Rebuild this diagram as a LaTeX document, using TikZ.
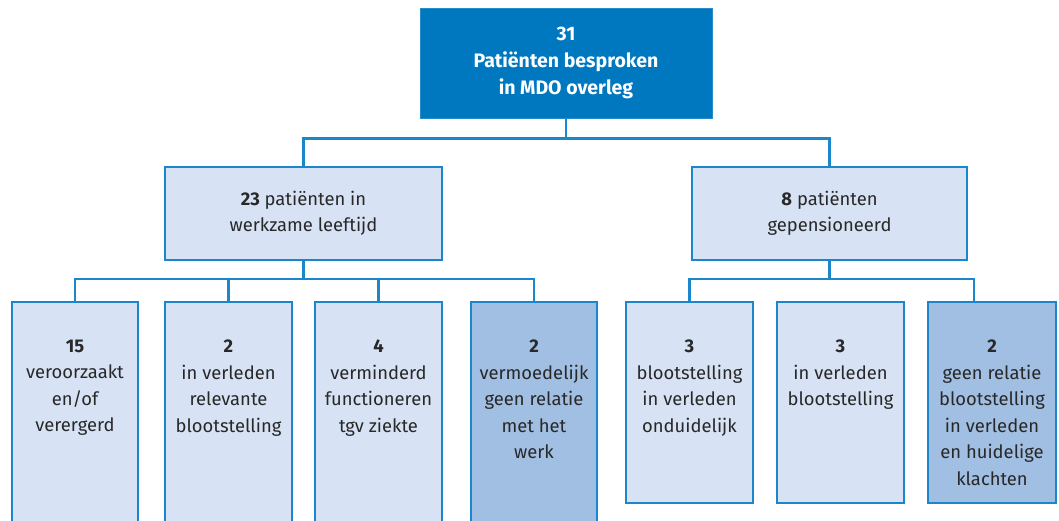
\documentclass[tikz,border=0pt]{standalone}
\usepackage{fontspec}
\setmainfont{Fira Sans}
\usetikzlibrary{calc}
\definecolor{topblue}{RGB}{0,120,192}
\definecolor{lightbox}{RGB}{215,227,244}
\definecolor{darkbox}{RGB}{161,191,226}
\definecolor{edgeblue}{RGB}{28,134,204}
\definecolor{txt}{RGB}{40,40,40}
\tikzset{
  box/.style={draw=edgeblue, line width=2.5pt, rectangle, inner sep=0pt},
  lbox/.style={box, fill=lightbox},
  dbox/.style={box, fill=darkbox},
  tbox/.style={draw=topblue!85!white, line width=1pt, fill=topblue, rectangle, inner sep=0pt},
  conn/.style={draw=edgeblue, line width=2.2pt},
  txtn/.style={text=txt, align=center, inner sep=0pt, font=\fontsize{18.4}{26.5}\selectfont},
  toptxt/.style={text=white, align=center, inner sep=0pt, font=\fontsize{19.5}{27}\selectfont\bfseries},
}
\begin{document}
\begin{tikzpicture}[x=1pt,y=-1pt]
\useasboundingbox (0,0) rectangle (1059,520);
\clip (0,0) rectangle (1059,520);
% top
\node[tbox, minimum width=292pt, minimum height=110pt] (top) at (566,63) {};
\node[toptxt] (toptext) at (top.center) {31\\Patiënten besproken\\in MDO overleg};
% level 2
\node[lbox, minimum width=277pt, minimum height=93pt] (L) at (303.5,213.5) {};
\node[txtn] (Ltext) at (L.center) {\textbf{23} patiënten in\\werkzame leeftijd};
\node[lbox, minimum width=275pt, minimum height=93pt] (R) at (829.5,213.5) {};
\node[txtn] (Rtext) at (R.center) {\textbf{8} patiënten\\gepensioneerd};
% level 3
\node[lbox, minimum width=126pt, minimum height=228pt] (b1) at (75,416) {};
\node[lbox, minimum width=127pt, minimum height=228pt] (b2) at (228.5,416) {};
\node[lbox, minimum width=127pt, minimum height=228pt] (b3) at (378.5,416) {};
\node[dbox, minimum width=126pt, minimum height=228pt] (b4) at (534,416) {};
\node[lbox, minimum width=127pt, minimum height=201pt] (b5) at (689.5,402.5) {};
\node[lbox, minimum width=127pt, minimum height=201pt] (b6) at (840.5,402.5) {};
\node[dbox, minimum width=128pt, minimum height=201pt] (b7) at (992,402.5) {};
\node[txtn, anchor=north] (t1) at ($(b1.north)+(0,39)$) {\textbf{15}\\veroorzaakt\\en/of\\verergerd};
\node[txtn, anchor=north] (t2) at ($(b2.north)+(0,39)$) {\textbf{2}\\in verleden\\relevante\\blootstelling};
\node[txtn, anchor=north] (t3) at ($(b3.north)+(0,39)$) {\textbf{4}\\verminderd\\functioneren\\tgv ziekte};
\node[txtn, anchor=north] (t4) at ($(b4.north)+(0,39)$) {\textbf{2}\\vermoedelijk\\geen relatie\\met het\\werk};
\node[txtn, anchor=north] (t5) at ($(b5.north)+(0,39)$) {\textbf{3}\\blootstelling\\in verleden\\onduidelijk};
\node[txtn, anchor=north] (t6) at ($(b6.north)+(0,39)$) {\textbf{3}\\in verleden\\blootstelling};
\node[txtn, anchor=north] (t7) at ($(b7.north)+(0,39)$) {\textbf{2}\\geen relatie\\blootstelling\\in verleden\\en huidelige\\klachten};
% connectors
\coordinate (jt) at ($(top.south)+(0,20)$);
\draw[conn] (top.south) -- (jt);
\draw[conn] (L.north) |- (jt) -| (R.north);
\coordinate (jl) at ($(L.south)+(0,18)$);
\draw[conn] (L.south) -- (jl);
\draw[conn] (b1.north) |- (jl) -| (b4.north);
\draw[conn] (b2.north) -- (b2.north |- jl);
\draw[conn] (b3.north) -- (b3.north |- jl);
\coordinate (jr) at ($(R.south)+(0,18)$);
\coordinate (b7top) at ($(b7.north west)!0.36!(b7.north east)$);
\draw[conn] (R.south) -- (jr);
\draw[conn] (b5.north) |- (jr) -| (b7top);
\end{tikzpicture}
\end{document}
